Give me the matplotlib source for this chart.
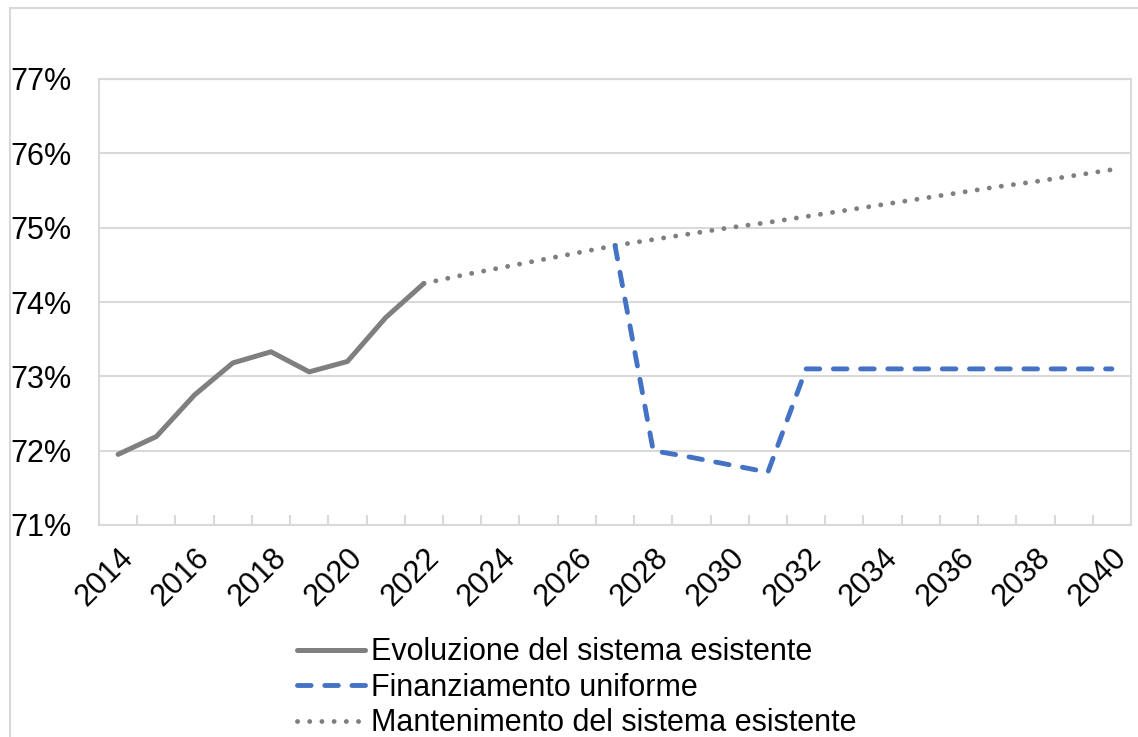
import matplotlib.pyplot as plt
import matplotlib.patches as mpatches
from matplotlib.ticker import FixedLocator, FuncFormatter

plt.rcParams['font.family'] = ['Liberation Sans', 'DejaVu Sans']

years = list(range(2014, 2041))

# Evoluzione del sistema esistente (2014-2022)
evol_years = list(range(2014, 2023))
evol = [71.95, 72.19, 72.75, 73.18, 73.33, 73.06, 73.20, 73.79, 74.25]

# Mantenimento del sistema esistente (2022-2040)
mant_years = list(range(2022, 2041))
mant = [74.25, 74.36, 74.46, 74.56, 74.66, 74.76, 74.84, 74.92, 75.00, 75.07,
        75.15, 75.23, 75.31, 75.39, 75.47, 75.55, 75.62, 75.70, 75.78]

# Finanziamento uniforme (2027-2040)
fin_years = list(range(2027, 2041))
fin = [74.76, 72.00, 71.91, 71.81, 71.71, 73.10, 73.10, 73.10, 73.10, 73.10,
       73.10, 73.10, 73.10, 73.10]

W, H = 1138, 737
fig = plt.figure(figsize=(W / 100, H / 100), dpi=100)

# outer chart frame
fig.patches.append(mpatches.Rectangle((10 / W, -0.1), 1.2, 1 - 8 / H + 0.1,
                                      transform=fig.transFigure, fill=False,
                                      edgecolor='#d9d9d9', linewidth=1.5))

ax = fig.add_axes([99 / W, (H - 525) / H, (1131 - 99) / W, (525 - 79) / H])

idx = lambda ys: [y - 2014 for y in ys]

ax.plot(idx(mant_years), mant, color='#7f7f7f', linewidth=3.5,
        dashes=(0.01, 2.5), dash_capstyle='round',
        label='Mantenimento del sistema esistente', zorder=3)
ax.plot(idx(fin_years), fin, color='#4472c4', linewidth=3.5,
        dashes=(2.8, 2.8), dash_capstyle='round',
        label='Finanziamento uniforme', zorder=4)
ax.plot(idx(evol_years), evol, color='#7f7f7f', linewidth=3.6,
        solid_capstyle='round', label='Evoluzione del sistema esistente',
        zorder=5)

ax.set_xlim(-0.5, len(years) - 0.5)
ax.set_ylim(71, 77)
ax.set_yticks(range(71, 78))
ax.yaxis.set_major_formatter(FuncFormatter(lambda v, p: f'{v:.0f}%'))
ax.grid(axis='y', color='#d9d9d9', linewidth=1.5)
ax.set_axisbelow(True)

ax.set_xticks(range(0, len(years), 2))
ax.set_xticklabels([str(y) for y in years[::2]], rotation=45, ha='right',
                   rotation_mode='anchor')
ax.xaxis.set_minor_locator(FixedLocator([i + 0.5 for i in range(len(years) - 1)]))
ax.tick_params(axis='x', which='major', length=0, pad=13, labelsize=22)
ax.tick_params(axis='x', which='minor', length=7, direction='in',
               color='#d9d9d9', width=1.5)
ax.tick_params(axis='y', length=0, pad=20, labelsize=22)

for s in ax.spines.values():
    s.set_color('#d9d9d9')
    s.set_linewidth(1.5)

handles, labels = ax.get_legend_handles_labels()
order = [2, 1, 0]
fig.legend([handles[i] for i in order], [labels[i] for i in order],
           loc='upper left', bbox_to_anchor=(282 / W, 1 - 622 / H),
           frameon=False, fontsize=22, handlelength=2.2, handletextpad=0.2,
           labelspacing=0.18, borderpad=0)

fig.savefig('out.png', dpi=100)
